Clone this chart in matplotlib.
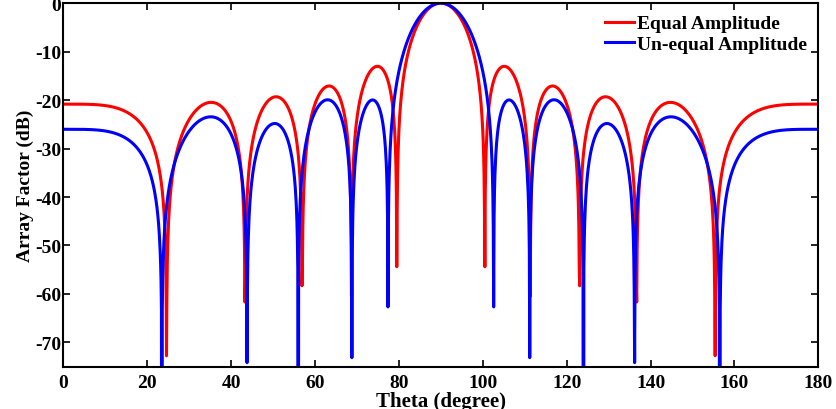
import matplotlib
matplotlib.use("Agg")
import matplotlib.pyplot as plt
import numpy as np

# null positions (deg), 0-90 side (pattern is symmetric about 90)
equal_nulls = [24.62, 43.34, 56.94, 68.68, 79.52]
unequal_nulls = [23.5, 43.815, 56.0, 68.8075, 77.413]

series_labels = ["Equal Amplitude", "Un-equal Amplitude"]
series_colors = ["#ff0000", "#0000ff"]

x_ticks = [0, 20, 40, 60, 80, 100, 120, 140, 160, 180]
y_ticks = [-70, -60, -50, -40, -30, -20, -10, 0]

# sampled at 0.1 deg like the original
theta = np.linspace(0, 180, 1801)


def array_factor_db(nulls):
    """Normalised array factor (dB) of a half-wave spaced array with the given nulls."""
    psi = np.pi * np.cos(np.radians(theta))
    psi_n = np.pi * np.cos(np.radians(nulls))
    af = np.ones_like(psi)
    norm = 1.0
    for p in psi_n:
        af *= np.cos(psi) - np.cos(p)
        norm *= 1.0 - np.cos(p)
    af = np.abs(af / norm)
    return 20 * np.log10(np.maximum(af, 1e-12))


plt.rcParams["font.family"] = ["Liberation Serif", "DejaVu Serif"]
plt.rcParams["font.weight"] = "bold"

fig = plt.figure(figsize=(8.36, 4.10), dpi=100)
ax = fig.add_axes([0.0757, 0.1032, 0.9032, 0.8868])

for nulls, lab, col in zip([equal_nulls, unequal_nulls], series_labels, series_colors):
    ax.plot(theta, array_factor_db(nulls), color=col, linewidth=2.2, label=lab)

ax.set_xlim(0, 180)
ax.set_ylim(-75, 0)
ax.set_xticks(x_ticks)
ax.set_yticks(y_ticks)
ax.set_xticklabels([str(t) for t in x_ticks], fontsize=14, fontweight="bold")
ax.set_yticklabels([str(t) for t in y_ticks], fontsize=14, fontweight="bold")
ax.tick_params(direction="in", top=True, right=True, length=5, width=1.2)
ax.tick_params(axis="y", pad=1.5)
ax.tick_params(axis="x", pad=5)
for s in ax.spines.values():
    s.set_linewidth(1.5)

ax.set_xlabel("Theta (degree)", fontsize=15, fontweight="bold", labelpad=0)
ax.set_ylabel("Array Factor (dB)", fontsize=14, fontweight="bold", labelpad=1)

ax.legend(loc="upper right", frameon=False, handlelength=1.5,
          handletextpad=0.15, borderaxespad=0.2, labelspacing=0.15,
          prop={"weight": "bold", "size": 14})

fig.savefig("out.png", dpi=100)
